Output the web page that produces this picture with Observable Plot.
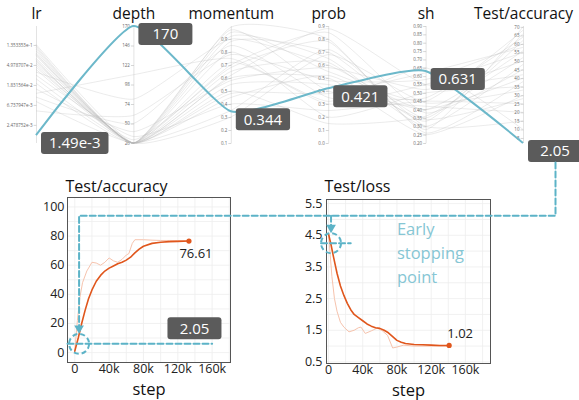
<!DOCTYPE html>
<html><head><meta charset="utf-8">
<script src="https://cdn.jsdelivr.net/npm/d3@7"></script>
<script src="https://cdn.jsdelivr.net/npm/@observablehq/plot@0.6"></script>
<style>
body{margin:0;background:#fff;}
#wrap{position:relative;width:579px;height:400px;overflow:hidden;}
#wrap > svg{position:absolute;display:block;}
</style></head><body><div id="wrap"></div><script>
// ---------------- data ----------------
const dims = ["lr", "depth", "momentum", "prob", "sh", "Test/accuracy"];
const lrTicks = [1.353353e-1, 4.978707e-2, 1.831564e-2, 6.737947e-3, 2.478752e-3];
const depthTicks = [26, 50, 74, 98, 122, 146, 170];
const momentumTicks = [0.1, 0.2, 0.3, 0.4, 0.5, 0.6, 0.7, 0.8, 0.9];
const probTicks = [0, 0.1, 0.2, 0.3, 0.4, 0.5, 0.6, 0.7, 0.8, 0.9];
const shTicks = [0.2, 0.25, 0.3, 0.35, 0.4, 0.45, 0.5, 0.55, 0.6, 0.65, 0.7, 0.75, 0.8, 0.85, 0.9];
const accTicks = [5, 10, 15, 20, 25, 30, 35, 40, 45, 50, 55, 60, 65, 70];

// best run (highlighted) and its labels
const bestRun = [1.49e-3, 170, 0.344, 0.421, 0.631, 2.05];
const bestLabels = ["1.49e-3", "170", "0.344", "0.421", "0.631", "2.05"];

// other runs: lr, depth, momentum, prob, sh, Test/accuracy
const otherRuns = [
  [0.12, 26, 0.95, 0.55, 0.45, 68],
  [0.10, 26, 0.88, 0.70, 0.35, 62],
  [0.08, 26, 0.72, 0.30, 0.55, 55],
  [0.06, 26, 0.65, 0.62, 0.30, 48],
  [0.05, 26, 0.55, 0.45, 0.40, 40],
  [0.13, 26, 0.99, 0.80, 0.28, 70],
  [0.09, 26, 0.80, 0.20, 0.50, 35],
  [0.07, 26, 0.60, 0.50, 0.25, 30],
  [0.04, 26, 0.48, 0.38, 0.62, 58],
  [0.11, 26, 0.92, 0.65, 0.33, 66],
  [0.03, 34, 0.40, 0.25, 0.45, 25],
  [0.02, 26, 0.70, 0.85, 0.38, 45],
  [0.015, 40, 0.58, 0.58, 0.52, 50],
  [0.01, 50, 0.85, 0.35, 0.42, 20],
  [0.008, 26, 0.35, 0.72, 0.30, 15],
  [0.005, 60, 0.78, 0.48, 0.58, 60],
  [0.14, 26, 0.50, 0.15, 0.36, 52],
  [0.065, 26, 0.97, 0.40, 0.47, 64],
  [0.045, 30, 0.68, 0.78, 0.26, 38],
  [0.025, 26, 0.45, 0.52, 0.34, 28],
  [0.085, 26, 0.62, 0.88, 0.55, 42],
  [0.035, 80, 0.90, 0.60, 0.40, 56],
  [0.012, 110, 0.75, 0.32, 0.65, 10],
  [0.055, 26, 0.30, 0.68, 0.44, 33]
];

// Test/accuracy curves (steps in thousands)
const accSmoothSteps = [0, 4, 8, 12, 16, 20, 25, 30, 35, 40, 45, 50, 55, 60, 65, 70, 75, 80, 90, 100, 110, 120, 133];
const accSmooth = [1, 10, 20, 29, 37, 43, 49, 53, 56, 58, 59.5, 61, 62, 63.5, 65.5, 68.5, 71, 73, 75, 75.8, 76.2, 76.4, 76.61];
const accRawSteps = [0, 3, 6, 9, 14, 20, 25, 30, 35, 40, 45, 50, 55, 60, 63, 67, 70, 80, 90, 100, 110, 120, 133];
const accRaw = [1, 22, 38, 48, 56, 62, 61.5, 60, 62, 65, 63, 62, 64, 67, 68, 75, 77.5, 77.5, 77.2, 77, 77, 76.9, 76.7];
const accTickValues = [0, 20, 40, 60, 80, 100];

// Test/loss curves (steps in thousands)
const lossSmoothSteps = [0, 3, 6, 10, 14, 18, 22, 26, 30, 35, 40, 45, 50, 55, 60, 65, 70, 75, 80, 85, 90, 100, 110, 120, 130, 141];
const lossSmooth = [4.55, 4.2, 3.8, 3.3, 2.9, 2.6, 2.35, 2.15, 2.0, 1.9, 1.8, 1.7, 1.63, 1.58, 1.56, 1.5, 1.42, 1.3, 1.18, 1.12, 1.08, 1.05, 1.04, 1.03, 1.02, 1.02];
const lossRawSteps = [0, 2, 4, 7, 10, 14, 18, 24, 30, 35, 38, 43, 50, 57, 63, 69, 75, 80, 88, 100, 120, 141];
const lossRaw = [4.55, 3.9, 3.2, 2.5, 2.1, 1.75, 1.6, 1.45, 1.5, 1.58, 1.6, 1.4, 1.48, 1.57, 1.48, 1.34, 0.94, 0.97, 1.03, 1.0, 1.0, 1.0];
const lossTickValues = [0.5, 1.5, 2.5, 3.5, 4.5, 5.5];
const stepTicks = [0, 40, 80, 120, 160];

// early-stopping annotation (data units)
const earlyAcc = {step: 5, value: 6, guideEnd: 160, routeLevel: 94, boxStep: 140, boxValue: 16.4, label: "2.05"};
const earlyLoss = {step: 3, value: 4.25, guideEnd: 26, textStep: 80, textValue: 3.99};
const earlyText = "Early\nstopping\npoint";

// ---------------- helpers ----------------
const fam = '"Open Sans", "Noto Sans", sans-serif';
const teal = "#5cb3c7";
const blue = "#6cb8ca";
const orange = "#e0561c";
const orangeLight = "#f6c3ad";
const boxFill = "#5b5b5b";
const ctx = document.createElement("canvas").getContext("2d");
function textW(t, size) { ctx.font = `${size}px ${fam}`; return ctx.measureText(t).width; }
function boxGeom(t, px, py, anchor, fontSize) {
  const h = 22, w = Math.max(54, textW(t, fontSize) + 16);
  if (anchor === "middle") { px -= w / 2; py -= h / 2; }
  return {x: px, y: py, w, h};
}
function labelBoxes(rows, {x, y, text, dx = 0, dy = 0, anchor = "start", fontSize = 15}) {
  return (index, scales) => {
    const g = d3.create("svg:g");
    for (const d of rows) {
      const t = text(d);
      const b = boxGeom(t, scales.x(x(d)) + dx, scales.y(y(d)) + dy, anchor, fontSize);
      g.append("rect").attr("x", b.x).attr("y", b.y).attr("width", b.w).attr("height", b.h)
        .attr("rx", 3).attr("fill", boxFill);
      g.append("text").attr("x", b.x + b.w / 2).attr("y", b.y + b.h / 2).attr("dy", "0.36em")
        .attr("text-anchor", "middle").attr("fill", "#fff").attr("font-size", fontSize)
        .attr("font-family", fam).text(t);
    }
    return g.node();
  };
}
// smooth parallel-coordinate polylines drawn through the plot's own x/y scales
function pcLines(rows, {z, stroke, strokeWidth = 1, strokeOpacity = 1}) {
  return (index, scales) => {
    const g = d3.create("svg:g").attr("fill", "none").attr("stroke", stroke)
      .attr("stroke-width", strokeWidth).attr("stroke-opacity", strokeOpacity);
    const line = d3.line().x(d => scales.x(d.i)).y(d => scales.y(d.v)).curve(d3.curveCardinal.tension(0.5));
    for (const [, grp] of d3.group(rows, z)) g.append("path").attr("d", line(grp));
    return g.node();
  };
}
const stepFmt = d => d === 0 ? "0" : d + "k";

// ---------------- parallel coordinates ----------------
const norm = [
  d3.scaleLog([1e-3, 0.35], [0, 1]),
  d3.scaleLinear([26, 170], [0, 1]),
  d3.scaleLinear([0.1, 1.0], [0, 1]),
  d3.scaleLinear([0, 0.9], [0, 1]),
  d3.scaleLinear([0.2, 0.9], [0, 1]),
  d3.scaleLinear([2.05, 70.5], [0, 1])
];
const fmts = [d3.format(".6e"), d3.format("d"), d3.format(".1f"), d3.format(".1f"), d3.format(".2f"), d3.format("d")];
const tickSets = [lrTicks, depthTicks, momentumTicks, probTicks, shTicks, accTicks];
const tickRows = tickSets.flatMap((ts, i) => ts.map(t => ({i, v: norm[i](t), label: fmts[i](t)})));
const lineRows = otherRuns.flatMap((r, k) => r.map((v, i) => ({k, i, v: norm[i](v)})));
const bestRows = bestRun.map((v, i) => ({k: "best", i, v: norm[i](v), label: bestLabels[i]}));
const dimRows = dims.map((name, i) => ({i, name}));
const boxDx = 5, boxDy = -3;

const topPlot = Plot.plot({
  width: 579, height: 165,
  marginLeft: 36, marginRight: 56, marginTop: 26, marginBottom: 22,
  x: {domain: [0, 5], axis: null},
  y: {domain: [0, 1], axis: null},
  style: {fontFamily: fam, background: "transparent", overflow: "visible"},
  marks: [
    Plot.ruleX(dimRows, {x: "i", y1: 0, y2: 1, stroke: "#dcdcdc", strokeWidth: 0.8}),
    Plot.link(tickRows, {x1: d => d.i - 0.03, x2: "i", y1: "v", y2: "v", stroke: "#bbb", strokeWidth: 0.6}),
    Plot.text(tickRows, {x: "i", y: "v", text: "label", textAnchor: "end", dx: -4, fontSize: 4.5, fill: "#666"}),
    pcLines(lineRows, {z: d => d.k, stroke: "#b8b8b8", strokeOpacity: 0.4, strokeWidth: 0.7}),
    pcLines(bestRows, {z: d => d.k, stroke: blue, strokeWidth: 2}),
    Plot.text(dimRows, {x: "i", y: () => 1, text: "name", dy: -7.5, lineAnchor: "bottom", fontSize: 15.5, fill: "#111"}),
    labelBoxes(bestRows, {x: d => d.i, y: d => d.v, text: d => d.label, dx: boxDx, dy: boxDy})
  ]
});

// ---------------- Test/accuracy chart ----------------
const accS = accSmoothSteps.map((s, i) => ({s, v: accSmooth[i]}));
const accR = accRawSteps.map((s, i) => ({s, v: accRaw[i]}));
const accPlot = Plot.plot({
  width: 250, height: 235,
  marginLeft: 67, marginRight: 20, marginTop: 32, marginBottom: 38,
  x: {domain: [-8.5, 181.4], ticks: stepTicks, tickFormat: stepFmt, tickSize: 0, tickPadding: 2, label: null},
  y: {domain: [-6.8, 106.5], ticks: accTickValues, tickSize: 0, tickPadding: 3, label: null},
  style: {fontFamily: fam, fontSize: "12.5px", color: "#222", background: "transparent", overflow: "visible"},
  marks: [
    Plot.ruleX(d3.range(0, 181, 20), {stroke: "#eee", strokeWidth: 0.8}),
    Plot.ruleY(d3.range(0, 106, 10), {stroke: "#eee", strokeWidth: 0.8}),
    Plot.frame({stroke: "#555", strokeWidth: 1}),
    Plot.line(accR, {x: "s", y: "v", stroke: orangeLight, strokeWidth: 1}),
    Plot.line(accS, {x: "s", y: "v", stroke: orange, strokeWidth: 1.6}),
    Plot.dot(accS.slice(-1), {x: "s", y: "v", r: 2.6, fill: orange}),
    Plot.text(accS.slice(-1), {x: "s", y: "v", text: d => d.v.toFixed(2), dx: 7, dy: 13, fontSize: 13, fill: "#222"}),
    Plot.text(["Test/accuracy"], {frameAnchor: "top-left", textAnchor: "start", lineAnchor: "bottom", dx: -2, dy: -6, fontSize: 16, fill: "#111"}),
    Plot.text(["step"], {frameAnchor: "bottom", lineAnchor: "bottom", dy: 32, fontSize: 16.5, fill: "#111"}),
    labelBoxes([earlyAcc], {x: d => d.boxStep, y: d => d.boxValue, text: d => d.label, anchor: "middle"})
  ]
});

// ---------------- Test/loss chart ----------------
const lossS = lossSmoothSteps.map((s, i) => ({s, v: lossSmooth[i]}));
const lossR = lossRawSteps.map((s, i) => ({s, v: lossRaw[i]}));
const lossPlot = Plot.plot({
  width: 289, height: 235,
  marginLeft: 36, marginRight: 89, marginTop: 34, marginBottom: 37,
  x: {domain: [-2.3, 189.3], ticks: stepTicks, tickFormat: stepFmt, tickSize: 0, tickPadding: 2, label: null},
  y: {domain: [0.45, 5.63], ticks: lossTickValues, tickFormat: ".1f", tickSize: 0, tickPadding: 4, label: null},
  style: {fontFamily: fam, fontSize: "12.5px", color: "#222", background: "transparent", overflow: "visible"},
  marks: [
    Plot.ruleX(d3.range(0, 189, 20), {stroke: "#eee", strokeWidth: 0.8}),
    Plot.ruleY(d3.range(0.5, 5.6, 0.5), {stroke: "#eee", strokeWidth: 0.8}),
    Plot.frame({stroke: "#555", strokeWidth: 1}),
    Plot.line(lossR, {x: "s", y: "v", stroke: orangeLight, strokeWidth: 1}),
    Plot.line(lossS, {x: "s", y: "v", stroke: orange, strokeWidth: 1.6}),
    Plot.dot(lossS.slice(-1), {x: "s", y: "v", r: 2.6, fill: orange}),
    Plot.text(lossS.slice(-1), {x: "s", y: "v", text: d => d.v.toFixed(2), dx: 11, dy: -12, fontSize: 13, fill: "#222"}),
    Plot.text(["Test/loss"], {frameAnchor: "top-left", textAnchor: "start", lineAnchor: "bottom", dx: -2, dy: -8, fontSize: 16, fill: "#111"}),
    Plot.text(["step"], {frameAnchor: "bottom", lineAnchor: "bottom", dy: 32, fontSize: 16.5, fill: "#111"}),
    Plot.text([earlyLoss], {x: "textStep", y: "textValue", text: () => earlyText, textAnchor: "start", lineAnchor: "middle", lineHeight: 1.45, fontSize: 16.5, fill: "#86c6d4"})
  ]
});

// ---------------- overlay connectors ----------------
const accOff = [0, 165], lossOff = [290, 165];
const tx = topPlot.scale("x"), ty = topPlot.scale("y");
const axs = accPlot.scale("x"), ays = accPlot.scale("y");
const lxs = lossPlot.scale("x"), lys = lossPlot.scale("y");
const last = bestRows[bestRows.length - 1];
const topBox = boxGeom(last.label, tx.apply(last.i) + boxDx, ty.apply(last.v) + boxDy, "start", 15);
const circleR = 10, arrowR = 3.6, arrowOff = 5.6;
const accC = {x: axs.apply(earlyAcc.step) + accOff[0], y: ays.apply(earlyAcc.value) + accOff[1]};
const lossC = {x: lxs.apply(earlyLoss.step) + lossOff[0], y: lys.apply(earlyLoss.value) + lossOff[1]};
const routeY = ays.apply(earlyAcc.routeLevel) + accOff[1];
const boxCx = topBox.x + topBox.w / 2;
const paths = [
  {id: "route", pts: [[boxCx, topBox.y + topBox.h], [boxCx, routeY], [accC.x, routeY], [accC.x, accC.y - circleR - arrowOff]]},
  {id: "branch", pts: [[lossC.x, routeY], [lossC.x, lossC.y - circleR - arrowOff]]},
  {id: "accGuide", pts: [[axs.apply(axs.domain[0]) + accOff[0], accC.y], [axs.apply(earlyAcc.guideEnd) + accOff[0], accC.y]]},
  {id: "lossGuide", pts: [[lossC.x - circleR, lossC.y], [lxs.apply(earlyLoss.guideEnd) + lossOff[0], lossC.y]]}
].flatMap(p => p.pts.map(([x, y]) => ({id: p.id, x, y})));
const circles = [accC, lossC];
const arrows = circles.map(c => ({x: c.x, y: c.y - circleR - arrowOff}));

const overlay = Plot.plot({
  width: 579, height: 400, margin: 0,
  x: {domain: [0, 579], range: [0, 579], axis: null},
  y: {domain: [0, 400], range: [0, 400], axis: null},
  style: {background: "transparent", pointerEvents: "none"},
  marks: [
    Plot.line(paths, {x: "x", y: "y", z: "id", stroke: teal, strokeWidth: 2, strokeDasharray: "6,3"}),
    Plot.dot(circles, {x: "x", y: "y", r: circleR, stroke: teal, strokeWidth: 2, strokeDasharray: "5,3", fill: "none"}),
    Plot.dot(arrows, {x: "x", y: "y", r: arrowR, symbol: "triangle", rotate: 180, fill: teal, stroke: "none"})
  ]
});

const wrap = document.getElementById("wrap");
function place(node, left, top) { node.style.left = left + "px"; node.style.top = top + "px"; wrap.appendChild(node); }
place(topPlot, 0, 0);
place(accPlot, accOff[0], accOff[1]);
place(lossPlot, lossOff[0], lossOff[1]);
place(overlay, 0, 0);
</script></body></html>
